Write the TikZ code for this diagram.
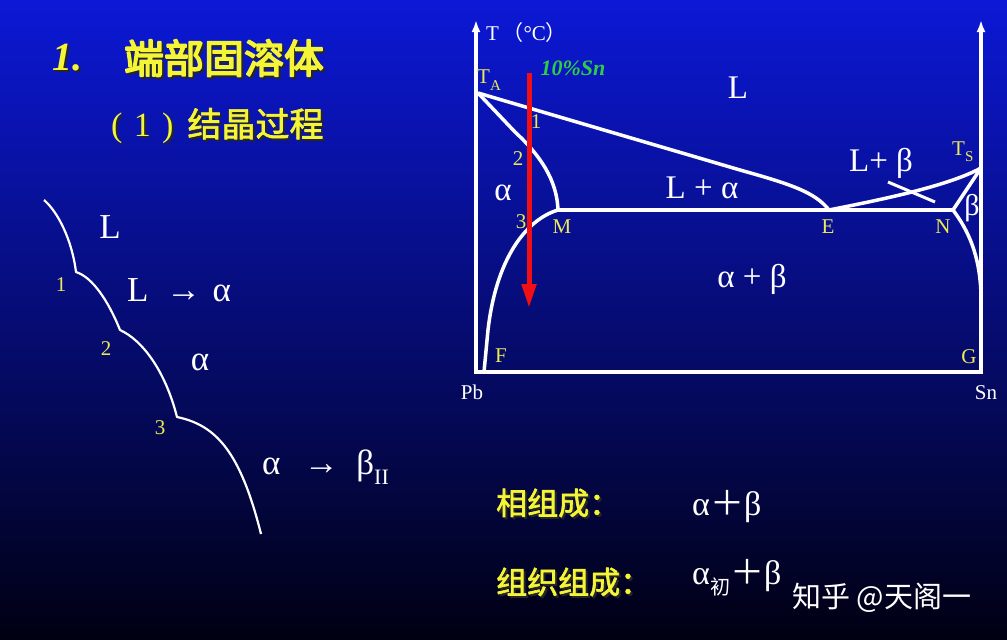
\documentclass[tikz,border=0pt]{standalone}
\usepackage{fontspec}
\setmainfont{Liberation Serif}
\newfontfamily\cjk{Noto Sans CJK SC}
\newfontfamily\cjkbold[FakeBold=2]{Noto Sans CJK SC}
\newfontfamily\cjkheavy[FakeBold=4]{Noto Sans CJK SC}
\usetikzlibrary{arrows.meta}
\definecolor{bgtop}{RGB}{12,24,214}
\definecolor{bgmid}{RGB}{0,0,125}
\definecolor{bgbot}{RGB}{0,0,18}
\definecolor{yell}{RGB}{245,245,55}
\definecolor{ptyell}{RGB}{235,235,85}
\definecolor{snred}{RGB}{240,15,20}
\definecolor{sngreen}{RGB}{45,205,70}
\newcommand{\fs}[1]{\fontsize{#1}{#1}\selectfont}

\begin{document}
\begin{tikzpicture}[x=1pt, y=-1pt,
    line join=round,
    curve/.style={white, line width=3.5pt},
    cool/.style={white, line width=2.2pt},
    phase/.style={text=white, inner sep=0pt, font=\fs{33}},
    stage/.style={text=white, inner sep=0pt, font=\fs{35}},
    small/.style={text=white, inner sep=0pt, font=\fs{21}},
    pt/.style={text=ptyell, inner sep=0pt, font=\fs{21}},
    title/.style={text=yell, inner sep=0pt, font=\fs{40}},
    subtitle/.style={text=yell, inner sep=0pt, font=\fs{34}},
    result/.style={text=yell, inner sep=0pt, font=\fs{31}},
    shadow/.style={text=black!85, xshift=2pt, yshift=-2pt}]
    \shade[top color=bgtop, middle color=bgmid, bottom color=bgbot] (0,0) rectangle (1007,640);
    \useasboundingbox (0,0) rectangle (1007,640);

    \node[title, shadow] at (67,58) {\bfseries\itshape 1.};
    \node[title] (num) at (67,58) {\bfseries\itshape 1.};
    \node[title, shadow] at (224,58) {\cjkheavy 端部固溶体};
    \node[title] (head) at (224,58) {\cjkheavy 端部固溶体};
    \node[subtitle, shadow, anchor=west] at (111,126) {(\,\,1\,\,)\hspace{14pt}{\cjkbold 结晶过程}};
    \node[subtitle, anchor=west] (sub) at (111,126) {(\,\,1\,\,)\hspace{14pt}{\cjkbold 结晶过程}};

    \draw[cool] (44,200) .. controls (58,212) and (72,240) .. (76,272)
        .. controls (92,277) and (108,300) .. (120,330)
        .. controls (142,340) and (165,370) .. (177,417)
        .. controls (215,425) and (240,450) .. (261,534);
    \node[stage] (c0) at (110,227) {L};
    \node[pt] (c1) at (61,285) {1};
    \node[stage, anchor=west] (c01) at (127,290) {L\,\,\,→\,\,α};
    \node[pt] (c2) at (106,349) {2};
    \node[stage] (c12) at (200,362) {α};
    \node[pt] (c3) at (160,428) {3};
    \node[stage, anchor=west] (c23) at (262,467) {α\,\,\,\,→\,\,\,β\raisebox{-0.3em}{\fs{22}II}};

    \coordinate (Ytop) at (476,20);
    \coordinate (O) at (476,372);
    \coordinate (R) at (981,372);
    \coordinate (Rtop) at (981,20);
    \coordinate (TA) at (478,93);
    \coordinate (M) at (558,210);
    \coordinate (E) at (829,210);
    \coordinate (N) at (953,210);
    \coordinate (TS) at (981,168);
    \coordinate (F) at (484,372);
    \coordinate (G) at (981,295);
    \draw[curve, line join=miter, {Latex[length=12pt,width=9pt]}-{Latex[length=12pt,width=9pt]}] (Ytop) -- (O) -- (R) -- (Rtop);
    \draw[curve] (TA) -- (740,170) .. controls (790,184) and (815,192) .. (E);
    \draw[curve] (TA) -- (515,132) .. controls (540,155) and (557,180) .. (M);
    \draw[curve] (M) .. controls (525,220) and (496,260) .. (488,330) -- (F);
    \draw[curve] (M) -- (N);
    \draw[curve] (E) .. controls (890,198) and (950,185) .. (TS);
    \draw[curve] (TS) -- (N);
    \draw[curve] (N) .. controls (968,230) and (980,255) .. (G);
    \draw[curve, line width=3pt] (888,182) -- (935,202);

    \draw[snred, line width=5pt, -{Triangle[length=24pt,width=14pt]}] (529,73) -- (529,308);
    \node[text=sngreen, inner sep=0pt, font=\fs{22}\bfseries\itshape] (alloy) at (573,68) {10\%Sn};

    \node[small, anchor=west] (temp) at (486,33) {T\,{\cjk （}°C{\cjk ）}};
    \node[pt, anchor=west] (ta) at (477,80) {T\raisebox{-0.3em}{\fs{15}A}};
    \node[pt, anchor=west] (ts) at (952,152) {T\raisebox{-0.3em}{\fs{15}S}};
    \node[phase] (liq) at (738,88) {L};
    \node[phase] (la) at (702,188) {L + α};
    \node[phase] (lb) at (881,163) {L+ β};
    \node[phase] (ab) at (752,279) {α + β};
    \node[phase] (alpha) at (503,193) {α};
    \node[phase, font=\fs{30}] (beta) at (972,208) {β};
    \node[pt] (p1) at (536,122) {1};
    \node[pt] (p2) at (518,159) {2};
    \node[pt] (p3) at (521,222) {3};
    \node[pt] (m) at (562,227) {M};
    \node[pt] (e) at (828,227) {E};
    \node[pt] (n) at (943,227) {N};
    \node[pt] (f) at (501,356) {F};
    \node[pt] (g) at (969,357) {G};
    \node[small] (pb) at (472,392) {Pb};
    \node[small] (sn) at (986,393) {Sn};

    \node[result, shadow, anchor=west] at (496,503) {\cjkbold 相组成：};
    \node[result, anchor=west] (phases) at (496,503) {\cjkbold 相组成：};
    \node[phase, font=\fs{34}, anchor=west] (phasesv) at (692,507) {α{\cjk ＋}β};
    \node[result, shadow, anchor=west] at (496,582) {\cjkbold 组织组成：};
    \node[result, anchor=west] (struct) at (496,582) {\cjkbold 组织组成：};
    \node[phase, font=\fs{34}, anchor=west] (structv) at (692,578) {α\raisebox{-0.3em}{\cjk\fs{20}初}{\cjk ＋}β};

    \node[text=white, inner sep=0pt, font=\cjk\fs{29}, anchor=west] (mark) at (792,598) {知乎 @天阁一};
\end{tikzpicture}
\end{document}
